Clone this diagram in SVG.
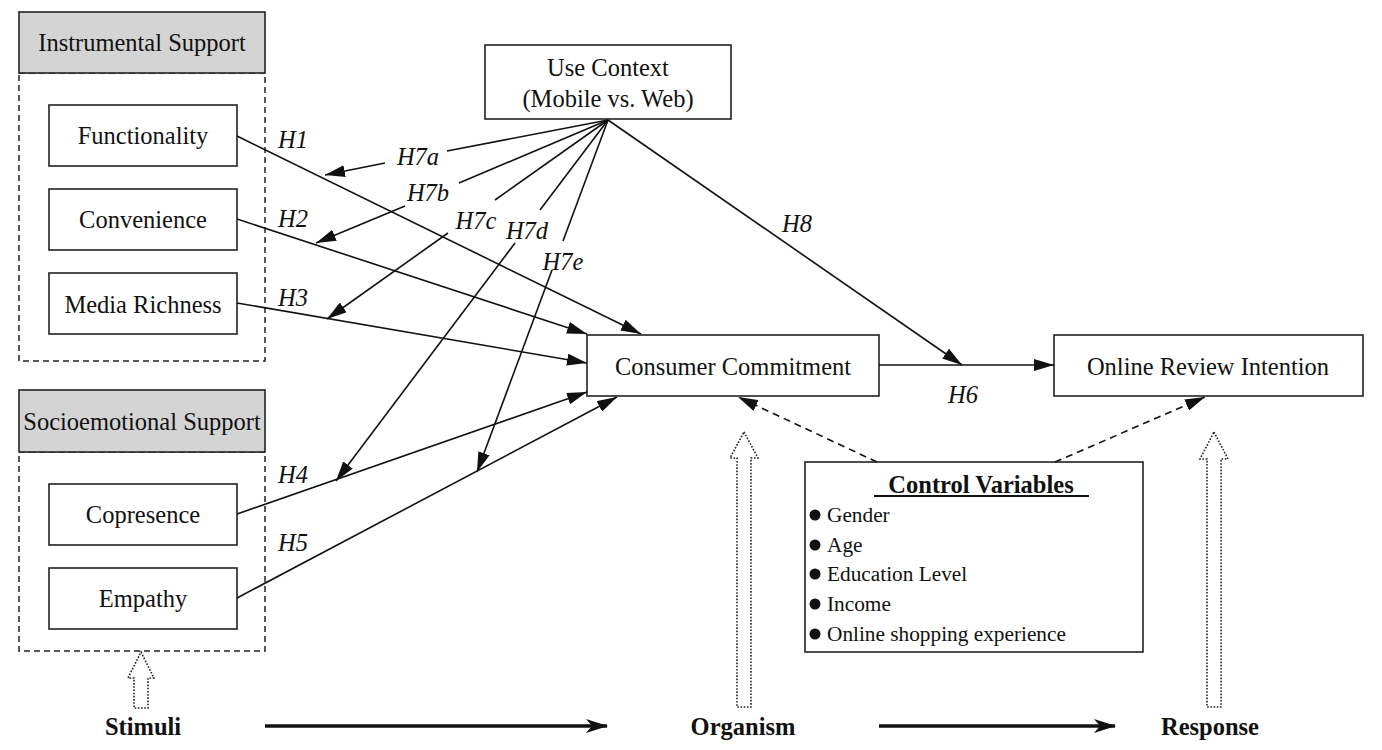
<svg xmlns="http://www.w3.org/2000/svg" width="1382" height="750" viewBox="0 0 1382 750">
<style>
  .box{fill:#fff;stroke:#222;stroke-width:1.6}
  .hdr{fill:#d4d4d4;stroke:#222;stroke-width:1.6}
  .grp{fill:none;stroke:#222;stroke-width:1.5;stroke-dasharray:6 4}
  .t{font-family:"Liberation Serif","Times New Roman",serif;font-size:24.5px;fill:#111;text-anchor:middle}
  .h{font-family:"Liberation Serif","Times New Roman",serif;font-size:24.5px;font-style:italic;fill:#111;text-anchor:middle}
  .b{font-family:"Liberation Serif","Times New Roman",serif;font-size:24.5px;font-weight:bold;fill:#111;text-anchor:middle}
  .li{font-family:"Liberation Serif","Times New Roman",serif;font-size:21.3px;fill:#111}
  .c{fill:none;stroke:#111;stroke-width:1.6}
  .d{fill:none;stroke:#111;stroke-width:1.6;stroke-dasharray:7 5}
  .ho{fill:#fff;stroke:#222;stroke-width:1.6;stroke-dasharray:1.6 1.6}
  .big{fill:none;stroke:#111;stroke-width:3.5}
</style>
<defs>
  <marker id="ah" viewBox="0 0 20 12" refX="20" refY="6" markerWidth="20" markerHeight="12" markerUnits="userSpaceOnUse" orient="auto">
    <path d="M0,0 L20,6 L0,12 z" fill="#111"/>
  </marker>
  <marker id="ab" viewBox="0 0 22 14" refX="21" refY="7" markerWidth="22" markerHeight="14" markerUnits="userSpaceOnUse" orient="auto">
    <path d="M0,0 L22,7 L0,14 L6,7 z" fill="#111"/>
  </marker>
</defs>

<g id="instrumental-support">
  <rect class="grp" x="19" y="73" width="246" height="288"/>
  <rect class="hdr" x="19" y="12" width="246" height="61"/>
  <text class="t" x="142" y="51">Instrumental Support</text>
</g>
<g id="functionality"><rect class="box" x="49" y="105" width="188" height="61"/><text class="t" x="143" y="144">Functionality</text></g>
<g id="convenience"><rect class="box" x="49" y="189" width="188" height="61"/><text class="t" x="143" y="228">Convenience</text></g>
<g id="media-richness"><rect class="box" x="49" y="273" width="188" height="61"/><text class="t" x="143" y="313">Media Richness</text></g>

<g id="socioemotional-support">
  <rect class="grp" x="19" y="452" width="246" height="199"/>
  <rect class="hdr" x="19" y="390" width="246" height="62"/>
  <text class="t" x="142" y="430">Socioemotional Support</text>
</g>
<g id="copresence"><rect class="box" x="49" y="484" width="188" height="61"/><text class="t" x="143" y="523">Copresence</text></g>
<g id="empathy"><rect class="box" x="49" y="568" width="188" height="61"/><text class="t" x="143" y="607">Empathy</text></g>

<g id="use-context"><rect class="box" x="485" y="45" width="246" height="74"/>
  <text class="t" x="608" y="76">Use Context</text>
  <text class="t" x="608" y="107">(Mobile vs. Web)</text>
</g>
<g id="consumer-commitment"><rect class="box" x="587" y="335" width="292" height="61"/><text class="t" x="733" y="375">Consumer Commitment</text></g>
<g id="online-review-intention"><rect class="box" x="1054" y="335" width="309" height="61"/><text class="t" x="1208" y="375">Online Review Intention</text></g>

<g id="control-variables"><rect class="box" x="805" y="462" width="338" height="190"/>
  <text class="b" x="981" y="493">Control Variables</text>
  <line x1="874" y1="496" x2="1089" y2="496" stroke="#111" stroke-width="2"/>
  <circle cx="815" cy="515" r="5.5" fill="#111"/><text class="li" x="827" y="522">Gender</text>
  <circle cx="815" cy="545" r="5.5" fill="#111"/><text class="li" x="827" y="552">Age</text>
  <circle cx="815" cy="574" r="5.5" fill="#111"/><text class="li" x="827" y="581">Education Level</text>
  <circle cx="815" cy="604" r="5.5" fill="#111"/><text class="li" x="827" y="611">Income</text>
  <circle cx="815" cy="634" r="5.5" fill="#111"/><text class="li" x="827" y="641">Online shopping experience</text>
</g>

<g id="sor-labels">
  <text class="b" x="143" y="735">Stimuli</text>
  <text class="b" x="743" y="735">Organism</text>
  <text class="b" x="1210" y="735">Response</text>
</g>

<g id="connectors">
  <line class="c" x1="237" y1="136" x2="641" y2="334" marker-end="url(#ah)"/>
  <line class="c" x1="237" y1="219" x2="587" y2="334" marker-end="url(#ah)"/>
  <line class="c" x1="237" y1="303" x2="587" y2="363" marker-end="url(#ah)"/>
  <line class="c" x1="237" y1="514" x2="587" y2="392" marker-end="url(#ah)"/>
  <line class="c" x1="237" y1="598" x2="617" y2="397" marker-end="url(#ah)"/>

  <line class="c" x1="608" y1="120" x2="447" y2="151"/>
  <line class="c" x1="385" y1="163" x2="325" y2="175" marker-end="url(#ah)"/>
  <line class="c" x1="608" y1="120" x2="459" y2="183"/>
  <line class="c" x1="405" y1="206" x2="316" y2="243" marker-end="url(#ah)"/>
  <line class="c" x1="608" y1="120" x2="495" y2="200"/>
  <line class="c" x1="448" y1="233" x2="327" y2="319" marker-end="url(#ah)"/>
  <line class="c" x1="608" y1="120" x2="540" y2="210"/>
  <line class="c" x1="515" y1="243" x2="336" y2="481" marker-end="url(#ah)"/>
  <line class="c" x1="608" y1="120" x2="563" y2="241"/>
  <line class="c" x1="552" y1="270" x2="477" y2="472" marker-end="url(#ah)"/>

  <line class="c" x1="608" y1="120" x2="962" y2="365" marker-end="url(#ah)"/>
  <line class="c" x1="879" y1="365" x2="1054" y2="365" marker-end="url(#ah)"/>

  <line class="d" x1="877" y1="462" x2="738" y2="397" marker-end="url(#ah)"/>
  <line class="d" x1="1055" y1="462" x2="1205" y2="397" marker-end="url(#ah)"/>

  <polygon class="ho" points="141,652 154,678 148,678 148,708 134,708 134,678 128,678"/>
  <polygon class="ho" points="744,432 758,458 751,458 751,707 737,707 737,458 730,458"/>
  <polygon class="ho" points="1214,432 1228,459 1221,459 1221,707 1207,707 1207,459 1200,459"/>

  <line class="big" x1="265" y1="726" x2="607" y2="726" marker-end="url(#ab)"/>
  <line class="big" x1="879" y1="726" x2="1115" y2="726" marker-end="url(#ab)"/>
</g>

<g id="labels">
  <text class="h" x="293" y="148">H1</text>
  <text class="h" x="293" y="227">H2</text>
  <text class="h" x="293" y="306">H3</text>
  <text class="h" x="293" y="483">H4</text>
  <text class="h" x="293" y="551">H5</text>
  <text class="h" x="418" y="165">H7a</text>
  <text class="h" x="428" y="201">H7b</text>
  <text class="h" x="476" y="229">H7c</text>
  <text class="h" x="527" y="239">H7d</text>
  <text class="h" x="563" y="270">H7e</text>
  <text class="h" x="797" y="232">H8</text>
  <text class="h" x="963" y="403">H6</text>
</g>
</svg>
